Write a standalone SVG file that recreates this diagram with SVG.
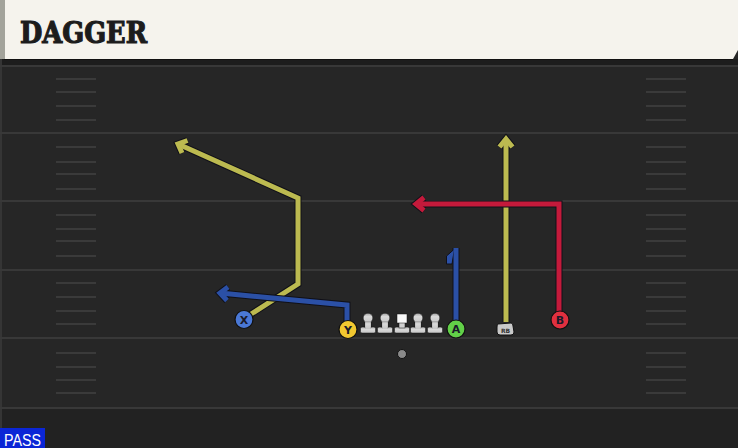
<svg xmlns="http://www.w3.org/2000/svg" width="738" height="448" viewBox="0 0 738 448">
<defs>
<style>
.yard{stroke:#383838;stroke-width:2;fill:none}
.hash{stroke:#3a3a3a;stroke-width:2;fill:none}
.under{fill:none;stroke:#101018;stroke-width:7;stroke-linejoin:miter;stroke-linecap:butt}
.yel{fill:none;stroke:#bcba50;stroke-width:5;stroke-linejoin:miter;stroke-linecap:butt}
.blu{fill:none;stroke:#2b50a6;stroke-width:5;stroke-linejoin:miter;stroke-linecap:butt}
.red{fill:none;stroke:#c41a3b;stroke-width:5;stroke-linejoin:miter;stroke-linecap:butt}
.lbl{font-family:"DejaVu Sans","Liberation Sans",sans-serif;font-weight:bold;font-size:11px;text-anchor:middle;fill:#1a1a2a}
</style>
<linearGradient id="lg" x1="0" y1="0" x2="0" y2="1">
<stop offset="0" stop-color="#a0a0a0"/>
<stop offset="0.35" stop-color="#dadada"/>
<stop offset="1" stop-color="#c6c6c6"/>
</linearGradient>
<g id="lineman" fill="url(#lg)" stroke="#151515" stroke-width="0.5">
<rect x="-7.5" y="14" width="15" height="6" rx="1.5"/>
<path d="M-3,6 H3 V15 H-3 Z"/>
<circle cx="0" cy="5" r="4.8"/>
<rect x="-2.7" y="8" width="5.4" height="8" stroke="none"/>
</g>
</defs>
<rect x="0" y="0" width="738" height="448" fill="#262626"/>
<rect x="0" y="407" width="738" height="41" fill="#222222"/>
<rect x="0" y="59" width="738" height="6" fill="#1d1d1d"/>
<rect x="0" y="59" width="2" height="389" fill="#353535"/>
<g id="field">
<line class="yard" x1="0" y1="66" x2="738" y2="66"/>
<line class="yard" x1="0" y1="133" x2="738" y2="133"/>
<line class="yard" x1="0" y1="201" x2="738" y2="201"/>
<line class="yard" x1="0" y1="270" x2="738" y2="270"/>
<line class="yard" x1="0" y1="338" x2="738" y2="338"/>
<line class="yard" x1="0" y1="408" x2="738" y2="408"/>
<path class="hash" d="M56 79H96M56 92H96M56 106H96M56 120H96M56 147H96M56 162H96M56 174H96M56 189H96M56 215H96M56 229H96M56 241H96M56 256H96M56 283H96M56 297H96M56 311H96M56 324H96M56 353H96M56 367H96M56 380H96M56 393H96"/>
<path class="hash" d="M646 79H686M646 92H686M646 106H686M646 120H686M646 147H686M646 162H686M646 174H686M646 189H686M646 215H686M646 229H686M646 241H686M646 256H686M646 283H686M646 297H686M646 311H686M646 324H686M646 353H686M646 367H686M646 380H686M646 393H686"/>
</g>
<g id="title">
<polygon points="4,0 738,0 738,50 733,59 4,59" fill="#f5f3ed"/>
<rect x="0" y="0" width="5" height="59" fill="#a3a39b"/>
<line x1="4" y1="59.5" x2="733" y2="59.5" stroke="#111" stroke-width="1"/>
<text x="20" y="43" font-family="'DejaVu Serif','Liberation Serif',serif" font-weight="bold" font-size="29" textLength="127" lengthAdjust="spacingAndGlyphs" fill="#1c1c1c" stroke="#1c1c1c" stroke-width="1.2">DAGGER</text>
</g>
<g id="connectors">
<g id="route-x">
<polyline class="under" points="248,316 298,284 298,198 178,144"/>
<polyline class="under" points="187.5,140.5 178,144 182,153"/>
<polyline class="yel" points="248,316 298,284 298,198 178,144"/>
<polyline class="yel" points="187.5,140.5 178,144 182,153"/>
</g>
<g id="route-y">
<polyline class="under" points="347,322 347,305 220,293"/>
<polyline class="under" points="228,287 220,293 227,300.5"/>
<polyline class="blu" points="347,322 347,305 220,293"/>
<polyline class="blu" points="228,287 220,293 227,300.5"/>
</g>
<g id="route-a">
<polyline class="under" points="456,321 456,248"/>
<polygon points="454.5,249 446.5,256 446.5,264 452,264 453,258" fill="#2b50a6" stroke="#101018" stroke-width="1"/>
<polyline class="blu" points="456,321 456,248"/>
</g>
<g id="route-rb">
<polyline class="under" points="506,322 506,139"/>
<polyline class="under" points="499.5,147 506,139 512.5,147"/>
<polyline class="yel" points="506,322 506,139"/>
<polyline class="yel" points="499.5,147 506,139 512.5,147"/>
</g>
<g id="route-b">
<polyline class="under" points="559,312 559,204 416,204"/>
<polyline class="under" points="424,197.5 416,204 424,210.5"/>
<polyline class="red" points="559,312 559,204 416,204"/>
<polyline class="red" points="424,197.5 416,204 424,210.5"/>
</g>
</g>
<g id="player-x">
<circle cx="244" cy="319.5" r="9" fill="#4a78d6" stroke="#111" stroke-width="1.2"/>
<text class="lbl" x="244" y="323.5">X</text>
</g>
<g id="player-y">
<circle cx="348" cy="329.5" r="9" fill="#f2c830" stroke="#111" stroke-width="1.2"/>
<text class="lbl" x="348" y="333.5">Y</text>
</g>
<g id="lt"><use href="#lineman" x="368" y="313"/></g>
<g id="lg2"><use href="#lineman" x="385" y="313"/></g>
<g id="center" stroke="#151515" stroke-width="0.5">
<rect x="394.5" y="327" width="15" height="6" rx="1.5" fill="url(#lg)"/>
<rect x="399" y="322" width="6" height="6" fill="#d0d0d0"/>
<rect x="397" y="314" width="10" height="9" fill="#f8f8f8"/>
</g>
<g id="rg"><use href="#lineman" x="418" y="313"/></g>
<g id="rt"><use href="#lineman" x="435" y="313"/></g>
<g id="player-a">
<circle cx="456" cy="329" r="9" fill="#62d048" stroke="#111" stroke-width="1.2"/>
<text class="lbl" x="456" y="333">A</text>
</g>
<g id="player-rb">
<path d="M498,324 L511,323 Q513,323 513,326 L514,332 Q514,335 511,335 L500,335 Q497,335 497,332 L497,327 Q497,324 498,324 Z" fill="#c9c9c9" stroke="#111" stroke-width="1"/>
<text x="505.5" y="332.5" font-family="'DejaVu Sans',sans-serif" font-weight="bold" font-size="6" text-anchor="middle" fill="#333">RB</text>
</g>
<g id="player-b">
<circle cx="560" cy="320" r="9" fill="#e0303f" stroke="#111" stroke-width="1.2"/>
<text class="lbl" x="560" y="324">B</text>
</g>
<g id="ball"><circle cx="402" cy="354" r="4.5" fill="#8a8a8a" stroke="#111" stroke-width="1"/></g>
<g id="pass-tag">
<rect x="0" y="428" width="45" height="20" fill="#0b26d6"/>
<text x="4" y="446" font-family="'Liberation Sans','DejaVu Sans',sans-serif" font-size="16" textLength="37" lengthAdjust="spacingAndGlyphs" fill="#ffffff">PASS</text>
</g>
</svg>
